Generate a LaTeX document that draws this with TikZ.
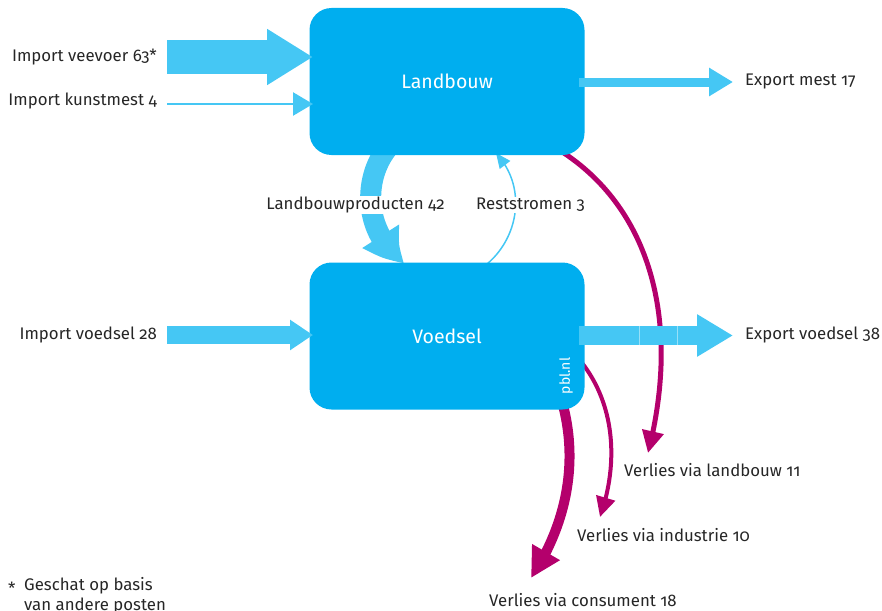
\documentclass[tikz,border=0pt]{standalone}
\usepackage{fontspec}
\setmainfont{Fira Sans}[Numbers=OldStyle]
\usetikzlibrary{arrows.meta,bending}
\definecolor{boxblue}{HTML}{00AEEF}
\definecolor{flowblue}{HTML}{45C7F4}
\definecolor{lossmag}{HTML}{B4006C}
\begin{document}
\begin{tikzpicture}[x=1pt,y=-1pt,
  box/.style={fill=boxblue,rounded corners=22pt,minimum width=275pt,minimum height=147pt,inner sep=0pt,text=white,font=\fontsize{19.5}{22}\selectfont},
  lab/.style={inner sep=0pt,font=\fontsize{16.8}{20}\selectfont,text=black!85},
  flow/.style={draw=flowblue},
  loss/.style={draw=lossmag}]
\useasboundingbox (0,0) rectangle (882,610);

% coordinates for free ends
\coordinate (vvS) at (167,57);   \coordinate (vvE) at (313,57);
\coordinate (kmS) at (167,104);  \coordinate (kmE) at (313,104);
\coordinate (ivS) at (167,335);  \coordinate (ivE) at (313,335);
\coordinate (emS) at (579,82);   \coordinate (emE) at (733,82);
\coordinate (evS) at (579,335.5);\coordinate (evE) at (733,335.5);

% flows under the boxes
\draw[flow,line width=21pt,-{Triangle[length=38pt,width=40pt,bend]}]
  (395,140) .. controls (362,170) and (360,232) .. (405,263);
\draw[flow,line width=1.5pt,-{Triangle[length=15pt,width=13pt]}]
  (487,264) .. controls (518,238) and (528,188) .. (496,153);
\draw[loss,line width=5pt,-{Triangle[length=22pt,width=21pt]}]
  (556,148) .. controls (650,205) and (682,320) .. (648,453);
\draw[loss,line width=4pt,-{Triangle[length=20pt,width=19pt]}]
  (578,358) .. controls (614,400) and (620,460) .. (600,517);
\draw[loss,line width=10pt,-{Triangle[length=30pt,width=30pt]}]
  (561,398) .. controls (580,462) and (566,525) .. (531,578);

% boxes
\node[box] (L) at (447,81.5) {Landbouw};
\node[box] (V) at (447,336) {Voedsel};
\node[inner sep=0pt,rotate=90,text=white,font=\fontsize{14}{16}\selectfont] (pbl) at (566,376) {pbl.nl};

% straight flows
\draw[flow,line width=33pt,-{Triangle[length=46pt,width=53pt]}] (vvS) -- (vvE);
\draw[flow,line width=2.5pt,-{Triangle[length=20pt,width=23pt]}] (kmS) -- (kmE);
\draw[flow,line width=18pt,-{Triangle[length=23pt,width=29pt]}] (ivS) -- (ivE);
\draw[flow,line width=9pt,-{Triangle[length=24pt,width=27pt]}] (emS) -- (emE);
\draw[flow,line width=19pt,-{Triangle[length=36pt,width=40pt]}] (evS) -- (evE);
\draw[white,opacity=0.45,line width=0.6pt] (639,326) -- (639,345) (677,326) -- (677,345);

% labels
\node[lab,anchor=east] (tvv) at (157,57) {Import veevoer 63*};
\node[lab,anchor=east] (tkm) at (157,101) {Import kunstmest 4};
\node[lab,anchor=east] (tiv) at (157,335) {Import voedsel 28};
\node[lab,anchor=west] (tem) at (745,82) {Export mest 17};
\node[lab,anchor=west] (tev) at (745,335) {Export voedsel 38};
\node[lab,fill=white,inner sep=1pt] (tlp) at (355.5,205) {Landbouwproducten 42};
\node[lab,fill=white,inner sep=1pt,anchor=west] (trs) at (475,205) {Reststromen 3};
\node[lab,anchor=west] (tvl) at (624,470) {Verlies via landbouw 11};
\node[lab,anchor=west] (tvi) at (577,535) {Verlies via industrie 10};
\node[lab,anchor=west] (tvc) at (489,600) {Verlies via consument 18};
\node[lab,anchor=west] (fst) at (8,588) {*};
\node[lab,anchor=west] (fn1) at (24,586) {Geschat op basis};
\node[lab,anchor=west] (fn2) at (24,606) {van andere posten};
\end{tikzpicture}
\end{document}
